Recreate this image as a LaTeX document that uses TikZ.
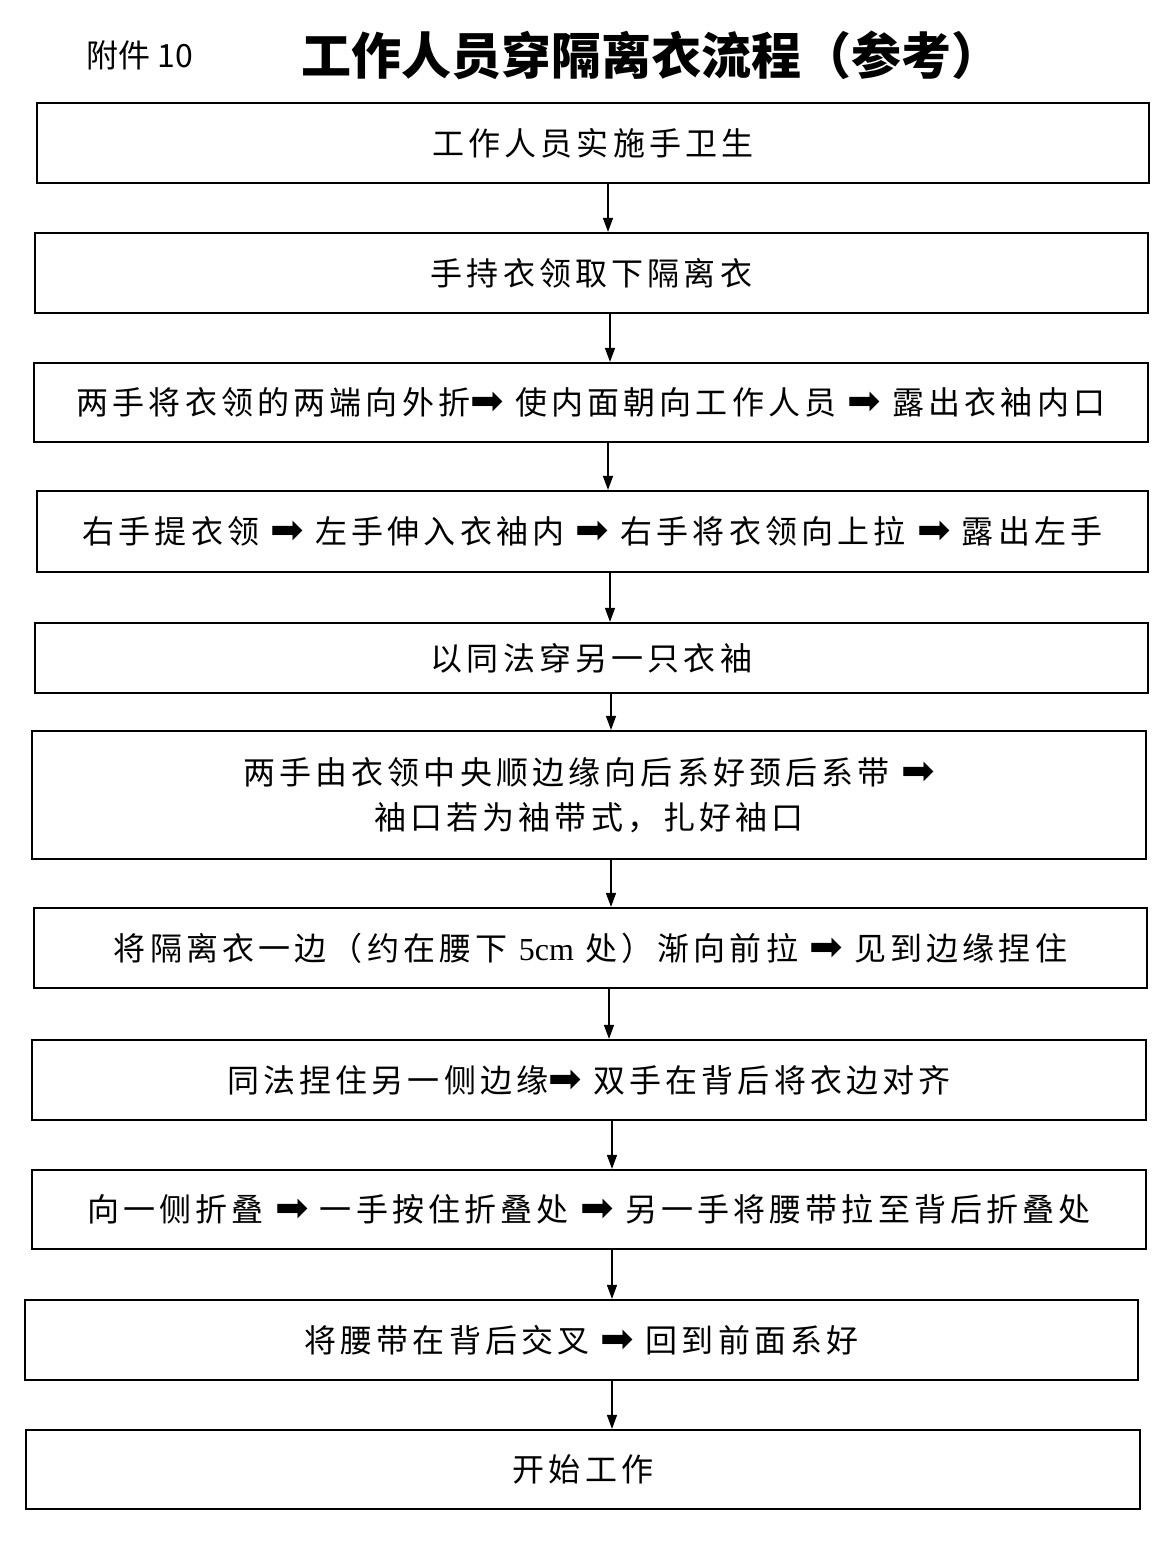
\documentclass[tikz,border=0pt]{standalone}
\usepackage{fontspec}
\setmainfont{Liberation Serif}
\newfontfamily\cjk[LetterSpace=13]{Noto Sans CJK SC}
\newfontfamily\cjkt{Noto Sans CJK SC}
\newfontfamily\dv{DejaVu Sans}
\usetikzlibrary{arrows.meta}
\newcommand\rar{{\dv\fontsize{40}{40}\selectfont ➡}}
\begin{document}
\begin{tikzpicture}[x=1pt,y=-1pt,
  box/.style={draw, line width=2.2pt, inner sep=0pt, align=center,
    font=\cjk\fontsize{32}{45}\selectfont},
  flow/.style={line width=1.4pt, -{Triangle[length=14pt,width=10pt]}}]
\useasboundingbox[fill=white] (0,0) rectangle (1173,1545);
\node[font=\cjkt\fontsize{32}{32}\selectfont] (fj) at (140,55) {附件 10};
\node[font=\cjkt\bfseries\fontsize{50}{50}\selectfont] (title) at (651,55) {工作人员穿隔离衣流程（参考）};

\node[box, minimum width=1112pt, minimum height=80pt] (b1) at (593,143) {工作人员实施手卫生};
\node[box, minimum width=1113pt, minimum height=80pt] (b2) at (591.5,273) {手持衣领取下隔离衣};
\node[box, minimum width=1114pt, minimum height=79pt] (b3) at (591,402.5) {两手将衣领的两端向外折\rar{} 使内面朝向工作人员 \rar{} 露出衣袖内口};
\node[box, minimum width=1111pt, minimum height=81pt] (b4) at (592.5,531.5) {右手提衣领 \rar{} 左手伸入衣袖内 \rar{} 右手将衣领向上拉 \rar{} 露出左手};
\node[box, minimum width=1113pt, minimum height=70pt] (b5) at (591.5,658) {以同法穿另一只衣袖};
\node[box, minimum width=1114pt, minimum height=128pt] (b6) at (589,795) {两手由衣领中央顺边缘向后系好颈后系带 \rar\\袖口若为袖带式，扎好袖口};
\node[box, minimum width=1113pt, minimum height=80pt] (b7) at (590.5,948) {将隔离衣一边（约在腰下 {\rmfamily 5cm} 处）渐向前拉 \rar{} 见到边缘捏住};
\node[box, minimum width=1114pt, minimum height=80pt] (b8) at (589,1080) {同法捏住另一侧边缘\rar{} 双手在背后将衣边对齐};
\node[box, minimum width=1114pt, minimum height=79pt] (b9) at (589,1209.5) {向一侧折叠 \rar{} 一手按住折叠处 \rar{} 另一手将腰带拉至背后折叠处};
\node[box, minimum width=1113pt, minimum height=80pt] (b10) at (581.5,1340) {将腰带在背后交叉 \rar{} 回到前面系好};
\node[box, minimum width=1114pt, minimum height=79pt] (b11) at (583,1469.5) {开始工作};

\coordinate (x1) at (608,0);
\coordinate (x2) at (610,0);
\coordinate (x3) at (608,0);
\coordinate (x4) at (610,0);
\coordinate (x5) at (611,0);
\coordinate (x6) at (611,0);
\coordinate (x7) at (609,0);
\coordinate (x8) at (612,0);
\coordinate (x9) at (612,0);
\coordinate (x10) at (612,0);
\draw[flow] (b1.south -| x1) -- (b2.north -| x1);
\draw[flow] (b2.south -| x2) -- (b3.north -| x2);
\draw[flow] (b3.south -| x3) -- (b4.north -| x3);
\draw[flow] (b4.south -| x4) -- (b5.north -| x4);
\draw[flow] (b5.south -| x5) -- (b6.north -| x5);
\draw[flow] (b6.south -| x6) -- (b7.north -| x6);
\draw[flow] (b7.south -| x7) -- (b8.north -| x7);
\draw[flow] (b8.south -| x8) -- (b9.north -| x8);
\draw[flow] (b9.south -| x9) -- (b10.north -| x9);
\draw[flow] (b10.south -| x10) -- (b11.north -| x10);
\end{tikzpicture}
\end{document}
